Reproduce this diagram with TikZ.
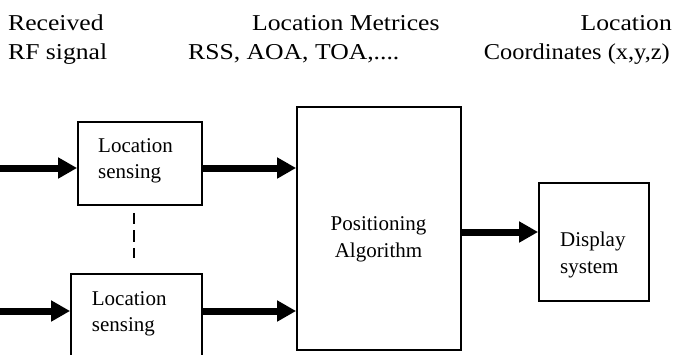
\documentclass[tikz,border=0pt]{standalone}
\usepackage{fontspec}
\setmainfont{Liberation Serif}
\newfontfamily\headfont{Liberation Serif}[FakeStretch=1.13]
\usetikzlibrary{arrows.meta}
\begin{document}
\begin{tikzpicture}[x=1pt,y=-1pt,
    box/.style={draw,line width=1.8pt,inner sep=0pt},
    txt/.style={inner sep=0pt,font=\fontsize{21}{26.5}\selectfont},
    hdr/.style={anchor=base west,inner sep=0pt,font=\headfont\fontsize{22.7}{29}\selectfont},
    fat/.style={line width=7pt,-{Triangle[length=19pt,width=20pt]}},
    dashline/.style={line width=2.6pt,dash pattern=on 11.5pt off 6pt}]
      \clip (0,0) rectangle (674,354);
      \draw
        (8,30) node[hdr] (recv){Received}
        (8,59) node[hdr] (rf){RF signal}
        (252,30) node[hdr] (metr){Location Metrices}
        (188,59) node[hdr] (rss){RSS, AOA, TOA,....}
        (672,30) node[hdr,anchor=base east] (loc){Location}
        (670,59) node[hdr,anchor=base east,xscale=0.95,transform shape] (coord){Coordinates (x,y,z)};
      \draw
        (140,163.5) node[box,minimum width=124pt,minimum height=83pt] (sense1){}
        (136.5,315.5) node[box,minimum width=131pt,minimum height=83pt] (sense2){}
        (379,228.5) node[box,minimum width=164pt,minimum height=243pt] (posit){}
        (594,242) node[box,minimum width=110pt,minimum height=118pt] (disp){};
      \draw
        (98,178.5) node[txt,anchor=base west,align=left] (t1){Location\\sensing}
        (91.7,331.5) node[txt,anchor=base west,align=left] (t2){Location\\sensing}
        (378.5,257.2) node[txt,anchor=base,align=center] (t3){Positioning\\Algorithm}
        (560,273.2) node[txt,anchor=base west,align=left] (t4){Display\\system};
      \coordinate (a1) at (0,168);
      \coordinate (a2) at (0,311);
      \coordinate (a3) at (0,232);
      \coordinate (d1) at (134,0);
      \begin{scope}[fat]
        \draw (a1) to (a1 -| sense1.west);
        \draw (sense1.east |- a1) to (a1 -| posit.west);
        \draw (a2) to (a2 -| sense2.west);
        \draw (sense2.east |- a2) to (a2 -| posit.west);
        \draw (posit.east |- a3) to (a3 -| disp.west);
      \end{scope}
      \draw[dashline,shorten <=7pt,shorten >=15pt] (sense1.south -| d1) -- (sense2.north -| d1);
    \end{tikzpicture}
\end{document}
